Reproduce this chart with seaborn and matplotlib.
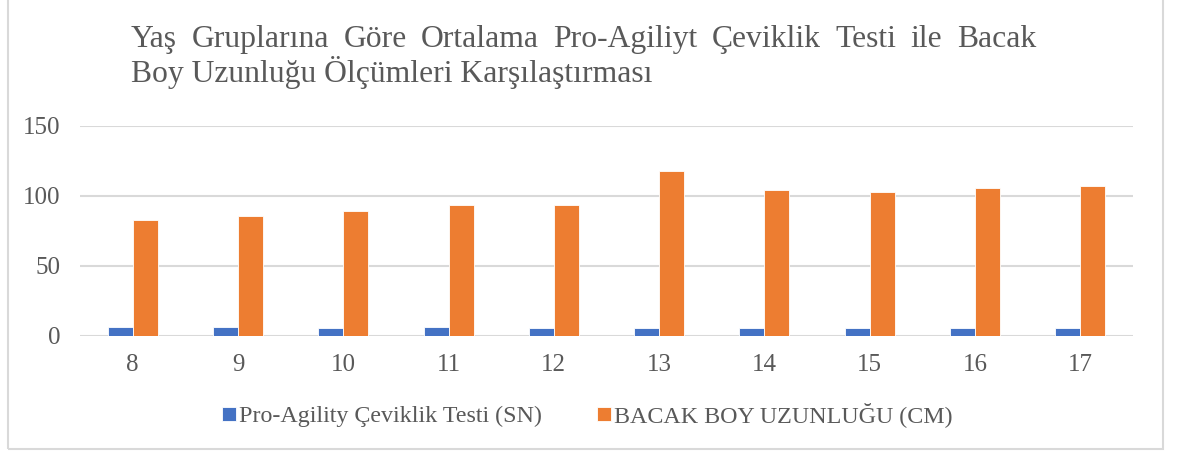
import matplotlib
matplotlib.use("Agg")
import matplotlib.pyplot as plt
import seaborn as sns
import pandas as pd
from matplotlib.patches import Rectangle

# Age groups and mean measurements per group
ages = ["8", "9", "10", "11", "12", "13", "14", "15", "16", "17"]
agility_sn = [6.7, 6.2, 6.0, 6.2, 6.0, 6.0, 6.0, 5.5, 5.5, 6.0]
leg_length_cm = [82.9, 86.0, 89.6, 93.4, 93.8, 118.1, 104.6, 103.1, 105.7, 107.1]
series_names = ["Pro-Agility Çeviklik Testi (SN)", "BACAK BOY UZUNLUĞU (CM)"]
y_ticks = [0, 50, 100, 150]
title_line1 = "Yaş Gruplarına Göre Ortalama Pro-Agiliyt Çeviklik Testi ile Bacak"
title_line2 = "Boy Uzunluğu Ölçümleri Karşılaştırması"

df = pd.DataFrame({
    "age": ages * 2,
    "value": agility_sn + leg_length_cm,
    "series": [series_names[0]] * len(ages) + [series_names[1]] * len(ages),
})

sns.set_theme(style="white")
plt.rcParams["font.family"] = ["Liberation Serif", "DejaVu Serif"]
text_color = "#595959"
grid_color = "#D9D9D9"

W, H = 1179, 457
fig = plt.figure(figsize=(W / 100, H / 100), dpi=100)
ax = fig.add_axes([80 / W, 1 - 336 / H, 1053 / W, 210 / H])

sns.barplot(data=df, x="age", y="value", hue="series", order=ages,
            hue_order=series_names, palette=["#4472C4", "#ED7D31"],
            saturation=1, width=0.475, edgecolor="white", linewidth=0.6,
            ax=ax, legend=True)

ax.set_ylim(0, 150)
ax.set_xlim(-0.5, len(ages) - 0.5)
ax.set_yticks(y_ticks)
ax.set_yticklabels([str(t) for t in y_ticks])
ax.set_xlabel("")
ax.set_ylabel("")
ax.set_axisbelow(True)
ax.yaxis.grid(True, color=grid_color, linewidth=1.5)
ax.xaxis.grid(False)
for side in ["top", "right", "left", "bottom"]:
    ax.spines[side].set_visible(False)
ax.tick_params(axis="both", length=0, labelsize=18, colors=text_color)
ax.tick_params(axis="y", pad=14)
ax.tick_params(axis="x", pad=13)

leg = ax.legend(loc="center", bbox_to_anchor=(587.5 / W, 1 - 415 / H),
                bbox_transform=fig.transFigure, ncol=2, frameon=False,
                fontsize=17.3, handlelength=0.55, handleheight=0.55,
                handletextpad=0.15, columnspacing=2.3, borderpad=0)
for t in leg.get_texts():
    t.set_color(text_color)

# Two-line title; the first line is justified across its full width
title_size = 22.8
x_left, x_right = 131 / W, 1036 / W
words = title_line1.split(" ")
renderer = fig.canvas.get_renderer()
word_texts = [fig.text(0, 1 - 47 / H, w, ha="left", va="baseline",
                       fontsize=title_size, color=text_color) for w in words]
widths = [t.get_window_extent(renderer).width / W for t in word_texts]
gap = max((x_right - x_left - sum(widths)) / (len(words) - 1), 5 / W)
x = x_left
for t, w in zip(word_texts, widths):
    t.set_x(x)
    x += w + gap
fig.text(x_left, 1 - 82 / H, title_line2, ha="left", va="baseline",
         fontsize=title_size, color=text_color)

# Chart frame
fig.patches.append(Rectangle((8 / W, 8 / H), 1155 / W, 460 / H,
                             transform=fig.transFigure, fill=False,
                             edgecolor="#D9D9D9", linewidth=1.5))

fig.savefig("out.png", dpi=100)
